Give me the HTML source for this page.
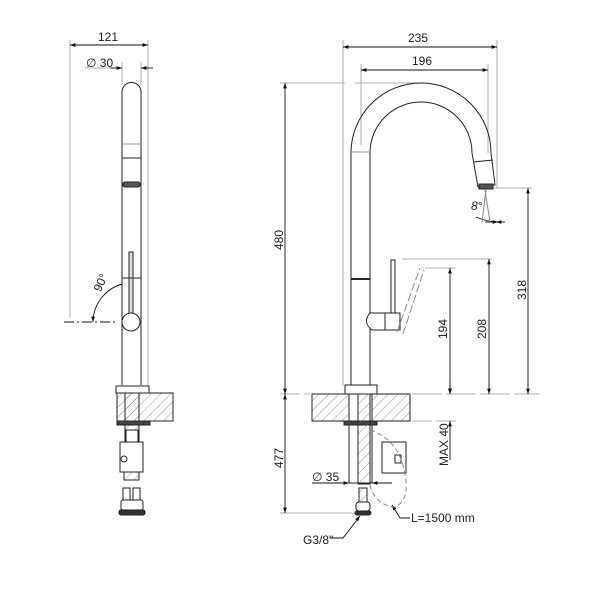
<!DOCTYPE html>
<html><head><style>
html,body{margin:0;padding:0;background:#fff;}
svg{display:block;}
text{font-family:"Liberation Sans","DejaVu Sans",sans-serif;font-size:12px;fill:#222;}
</style></head><body>
<svg width="600" height="600" viewBox="0 0 600 600" xmlns="http://www.w3.org/2000/svg">
<defs>
<marker id="a" viewBox="0 0 10 10" refX="10" refY="5" markerWidth="8" markerHeight="6" orient="auto-start-reverse"><path d="M0,1.5 L10,5 L0,8.5 z" fill="#111"/></marker>
<pattern id="h" width="7" height="7" patternUnits="userSpaceOnUse" patternTransform="rotate(45)"><line x1="0" y1="0" x2="0" y2="7" stroke="#777" stroke-width="0.8"/></pattern>
</defs>
<g fill="none" stroke="#999" stroke-width="0.8">
<!-- left view ext lines -->
<line x1="70" y1="40" x2="70" y2="318"/>
<line x1="148" y1="40" x2="148" y2="390"/>
<line x1="85" y1="68" x2="122" y2="68"/>
<line x1="122" y1="62" x2="122" y2="85"/>
<line x1="141" y1="62" x2="141" y2="85"/>
<!-- right view ext lines -->
<line x1="343" y1="40" x2="343" y2="386"/>
<line x1="361" y1="64" x2="361" y2="145"/>
<line x1="497" y1="40" x2="497" y2="188"/>
<line x1="488" y1="64" x2="488" y2="155"/>
<line x1="280" y1="83" x2="345" y2="83"/>
<line x1="355" y1="83" x2="420" y2="83"/>
<line x1="402" y1="259" x2="492" y2="259"/>
<line x1="425" y1="268" x2="455" y2="268"/>
<line x1="494" y1="188" x2="532" y2="188"/>
<line x1="280" y1="394" x2="310" y2="394" stroke-dasharray="20 4"/>
<line x1="412" y1="394" x2="540" y2="394" stroke-dasharray="30 4"/>
<line x1="412" y1="421" x2="460" y2="421" stroke-dasharray="20 4"/>
<line x1="280" y1="513" x2="356" y2="513"/>
</g>
<g stroke="#111" stroke-width="0.9" fill="none">
<line x1="70" y1="45" x2="148" y2="45" marker-start="url(#a)" marker-end="url(#a)"/>
<line x1="110" y1="68" x2="122" y2="68" marker-end="url(#a)"/>
<line x1="153" y1="68" x2="141" y2="68" marker-end="url(#a)"/>
<line x1="343" y1="47" x2="497" y2="47" marker-start="url(#a)" marker-end="url(#a)"/>
<line x1="361" y1="70" x2="488" y2="70" marker-start="url(#a)" marker-end="url(#a)"/>
<line x1="285" y1="83" x2="285" y2="394" marker-start="url(#a)" marker-end="url(#a)"/>
<line x1="285" y1="394" x2="285" y2="513" marker-start="url(#a)" marker-end="url(#a)"/>
<line x1="450" y1="268" x2="450" y2="394" marker-start="url(#a)" marker-end="url(#a)"/>
<line x1="489" y1="259" x2="489" y2="394" marker-start="url(#a)" marker-end="url(#a)"/>
<line x1="528" y1="188" x2="528" y2="394" marker-start="url(#a)" marker-end="url(#a)"/>
<line x1="450" y1="380" x2="450" y2="394" marker-end="url(#a)"/>
<line x1="450" y1="435" x2="450" y2="421" marker-end="url(#a)"/>
<line x1="450" y1="421" x2="450" y2="460"/>
<line x1="312" y1="483" x2="349" y2="483" marker-end="url(#a)"/>
<line x1="392" y1="483" x2="372" y2="483" marker-end="url(#a)"/>
<path d="M127,283 A40,40 0 0 0 93,322" marker-start="url(#a)" marker-end="url(#a)"/>
<path d="M476,217 Q487,222 500,222" />
<line x1="485" y1="222" x2="498" y2="222" marker-end="url(#a)"/>
<line x1="505" y1="222" x2="496" y2="222" marker-end="url(#a)"/>
<polyline points="330,538 343,538 360,516" marker-end="url(#a)"/>
<polyline points="410,518 400,518 392,505" marker-end="url(#a)"/>
</g>
<!-- left faucet -->
<g stroke="#222" stroke-width="1" fill="#fff">
<path d="M122,385 L122,92 A9.5,9.5 0 0 1 141,92 L141,385"/>
<line x1="122" y1="144" x2="141" y2="144" stroke="#999"/>
<rect x="122" y="158" width="19" height="26" fill="#fff"/>
<rect x="123" y="182" width="17" height="5" rx="2" fill="#555"/>
<rect x="129" y="252" width="4" height="62" fill="#ddd"/>
<line x1="122" y1="278" x2="141" y2="278"/>
<circle cx="131" cy="322" r="9"/>
<rect x="116" y="386" width="33" height="7"/>
<rect x="117" y="393" width="56" height="28" fill="url(#h)"/>
<rect x="125" y="393" width="14" height="70" fill="url(#h)"/>
<rect x="117" y="421" width="33" height="4" fill="#444"/>
<rect x="126" y="430" width="12" height="12"/>
<rect x="120" y="442" width="23" height="30"/>
<circle cx="124" cy="459" r="3"/>
<rect x="124" y="472" width="15" height="8" fill="url(#h)"/>
<rect x="123" y="488" width="7" height="12"/>
<rect x="133" y="488" width="7" height="12"/>
<rect x="121" y="500" width="22" height="10" rx="2"/>
<rect x="119" y="510" width="26" height="5" rx="2" fill="#333"/>
</g>
<line x1="64" y1="322" x2="118" y2="322" stroke="#888" stroke-dasharray="10 3 2 3" stroke-width="2"/>
<!-- right faucet -->
<g stroke="#222" stroke-width="1" fill="none">
<path d="M351,385 L351,153 A70,70 0 0 1 491,153"/>
<path d="M370,385 L370,153 A51,51 0 0 1 472,153"/>
<path d="M491,153 L495,185 L478,187 L472,153" fill="#fff"/>
<line x1="473" y1="162" x2="493" y2="160"/>
<rect x="479" y="184" width="14" height="5" fill="#555"/>
<line x1="351" y1="152" x2="370" y2="152" stroke="#999"/>
<line x1="351" y1="279" x2="370" y2="279" stroke-width="2"/>
<rect x="391" y="260" width="4" height="54" fill="#fff"/>
<path d="M370,313 L400,313 L400,330 L372,330 Q362,322 370,313z" fill="#fff"/>
<line x1="385" y1="313" x2="385" y2="330"/>
<line x1="397" y1="332" x2="420" y2="268" stroke="#888" stroke-dasharray="8 3"/>
<line x1="403" y1="334" x2="424" y2="270" stroke="#888" stroke-dasharray="8 3"/>
<line x1="485" y1="190" x2="490" y2="222" stroke="#888"/>
<line x1="486" y1="190" x2="482" y2="222" stroke="#888"/>
<rect x="345" y="385" width="32" height="9" fill="#fff"/>
<rect x="312" y="394" width="98" height="27" fill="url(#h)"/>
<rect x="349" y="394" width="23" height="27" fill="#fff"/>
<rect x="344" y="421" width="33" height="4" fill="#444"/>
<rect x="349" y="425" width="23" height="58" fill="#fff"/>
<rect x="358" y="394" width="12" height="90" fill="url(#h)"/>
<rect x="382" y="442" width="24" height="31" fill="#fff"/>
<rect x="395" y="455" width="6" height="8" fill="#fff"/>
<rect x="359" y="488" width="8" height="14" fill="url(#h)"/>
<rect x="356" y="502" width="14" height="9" rx="3" fill="#fff"/>
<rect x="355" y="511" width="16" height="4" rx="2" fill="#333"/>
<path d="M370,430 Q400,440 405,475 Q410,500 395,507 Q375,505 370,485" stroke="#888" stroke-dasharray="5 3"/>
</g>
<!-- labels -->
<text x="98" y="41">121</text>
<text x="86" y="67">∅ 30</text>
<text x="95" y="296" transform="rotate(-65 95 290)">90°</text>
<text x="408" y="42">235</text>
<text x="412" y="65">196</text>
<text x="283" y="250" transform="rotate(-90 283 250)">480</text>
<text x="283" y="468" transform="rotate(-90 283 468)">477</text>
<text x="447" y="339" transform="rotate(-90 447 339)">194</text>
<text x="486" y="339" transform="rotate(-90 486 339)">208</text>
<text x="526" y="300" transform="rotate(-90 526 300)">318</text>
<text x="448" y="466" transform="rotate(-90 448 466)">MAX 40</text>
<text x="471" y="210" font-style="italic">8°</text>
<text x="312" y="481">∅ 35</text>
<text x="303" y="544">G3/8"</text>
<text x="411" y="522">L=1500 mm</text>
</svg>
</body></html>
